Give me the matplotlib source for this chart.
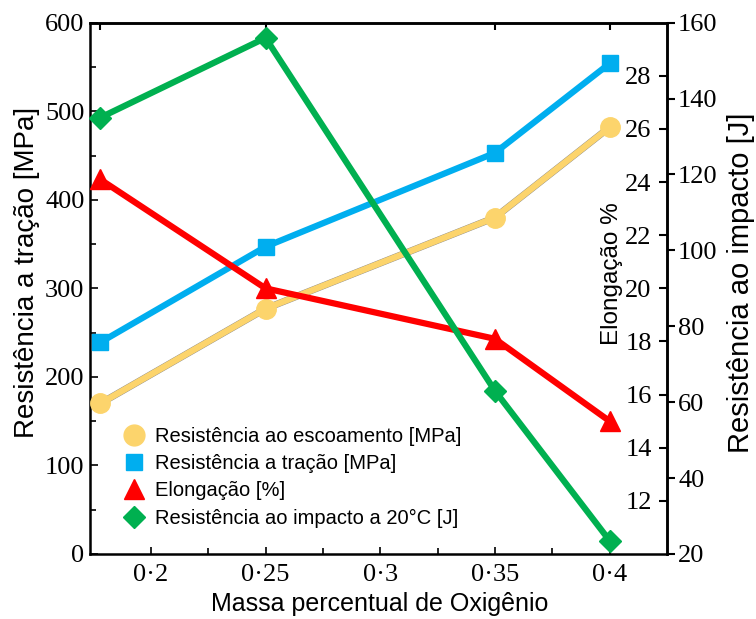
import matplotlib
matplotlib.use('Agg')
import matplotlib.pyplot as plt
from matplotlib.lines import Line2D

# ---- data ----
oxygen = [0.178, 0.25, 0.35, 0.40]
yield_mpa = [170, 277, 380, 482]
tensile_mpa = [239, 347, 453, 554]
elongation = [24.1, 20.0, 18.1, 15.0]
impact_j = [135, 156, 63, 23.5]

x_ticks = [0.2, 0.25, 0.3, 0.35, 0.4]
x_ticklabels = ['0·2', '0·25', '0·3', '0·35', '0·4']
left_ticks = [0, 100, 200, 300, 400, 500, 600]
elong_ticks = [12, 14, 16, 18, 20, 22, 24, 26, 28]
impact_ticks = [20, 40, 60, 80, 100, 120, 140, 160]
legend_labels = ['Resistência ao escoamento [MPa]',
                 'Resistência a tração [MPa]',
                 'Elongação [%]',
                 'Resistência ao impacto a 20°C [J]']

C_YEL = '#FCD46C'
C_BLU = '#00AEEF'
C_RED = '#FF0000'
C_GRN = '#00B050'

SANS = ['Liberation Sans', 'DejaVu Sans']
SERIF = ['Liberation Serif', 'DejaVu Serif']
TICKFS = 19

fig = plt.figure(figsize=(7.56, 6.19), dpi=100)
ax = fig.add_axes([90 / 756, 1 - 554 / 619, 577 / 756, 531.3 / 619])
ax.set_xlim(0.1735, 0.425)
ax.set_ylim(0, 600)

lw = 4.5
ax.plot(oxygen, yield_mpa, color='#8a8a8a', lw=lw + 0.5, zorder=2, clip_on=False)
ax.plot(oxygen, yield_mpa, color=C_YEL, lw=lw, marker='o', ms=14, zorder=3, clip_on=False)
ax.plot(oxygen, tensile_mpa, color=C_BLU, lw=lw, marker='s', ms=12, zorder=3, clip_on=False)

ax.set_xticks(x_ticks)
ax.set_xticklabels(x_ticklabels, fontfamily=SERIF, fontsize=TICKFS)
ax.set_xticks([0.225, 0.275, 0.325, 0.375], minor=True)
ax.set_yticks(left_ticks)
ax.set_yticklabels([str(v) for v in left_ticks], fontfamily=SERIF, fontsize=TICKFS)
ax.set_yticks([50, 150, 250, 350, 450, 550], minor=True)
ax.tick_params(axis='both', which='both', direction='in', width=1.2, color='black')
ax.tick_params(axis='x', which='major', length=5, pad=7)
ax.tick_params(axis='x', which='minor', length=4)
ax.tick_params(axis='y', which='major', length=6, pad=4)
ax.tick_params(axis='y', which='minor', length=4)
for s in ax.spines.values():
    s.set_linewidth(1.8)
ax.spines['right'].set_visible(False)

top = ax.secondary_xaxis('top')
top.set_xticks(oxygen)
top.set_xticklabels([''] * len(oxygen))
top.tick_params(direction='in', length=5, width=1.5)
top.spines['top'].set_linewidth(1.8)

# elongation axis (labels inside)
ax2 = ax.twinx()
ax2.set_ylim(10, 30)
ax2.plot(oxygen, elongation, color=C_RED, lw=lw, marker='^', ms=15, zorder=3, clip_on=False)
ax2.set_yticks(elong_ticks)
ax2.set_yticklabels([str(v) for v in elong_ticks], fontfamily=SERIF, fontsize=TICKFS)
ax2.tick_params(axis='y', direction='in', length=6, width=1.5, pad=-11)
for t in ax2.get_yticklabels():
    t.set_horizontalalignment('right')
for k in ['left', 'top', 'bottom']:
    ax2.spines[k].set_visible(False)
ax2.spines['right'].set_linewidth(1.8)

# impact axis
ax3 = ax.twinx()
ax3.set_ylim(20, 160)
ax3.plot(oxygen, impact_j, color=C_GRN, lw=lw, marker='D', ms=11, zorder=4, clip_on=False)
ax3.set_yticks(impact_ticks)
ax3.set_yticklabels([str(v) for v in impact_ticks], fontfamily=SERIF, fontsize=TICKFS)
ax3.tick_params(axis='y', direction='out', length=6, width=1.5, pad=2)
for k in ['left', 'top', 'bottom']:
    ax3.spines[k].set_visible(False)
ax3.spines['right'].set_linewidth(1.8)

# labels
fig.text(27 / 756, 1 - 272 / 619, 'Resistência a tração [MPa]', rotation=90,
         ha='center', va='center', fontsize=20, family=SANS)
fig.text(380 / 756, 1 - 604 / 619, 'Massa percentual de Oxigênio',
         ha='center', va='center', fontsize=18, family=SANS)
fig.text(612 / 756, 1 - 274 / 619, 'Elongação %', rotation=90,
         ha='center', va='center', fontsize=17.5, family=SANS)
fig.text(741 / 756, 1 - 283 / 619, 'Resistência ao impacto [J]', rotation=90,
         ha='center', va='center', fontsize=21, family=SANS)

handles = [
    Line2D([], [], ls='none', marker='o', ms=15, color=C_YEL),
    Line2D([], [], ls='none', marker='s', ms=12, color=C_BLU),
    Line2D([], [], ls='none', marker='^', ms=15, color=C_RED),
    Line2D([], [], ls='none', marker='D', ms=11, color=C_GRN),
]
leg = ax3.legend(handles, legend_labels, loc='upper left',
                 bbox_to_anchor=(0.045, 0.255), frameon=False,
                 prop={'family': SANS, 'size': 14.5}, handlelength=1.0,
                 handletextpad=0.55, labelspacing=0.42, borderaxespad=0)

fig.savefig('out.png', dpi=100)
